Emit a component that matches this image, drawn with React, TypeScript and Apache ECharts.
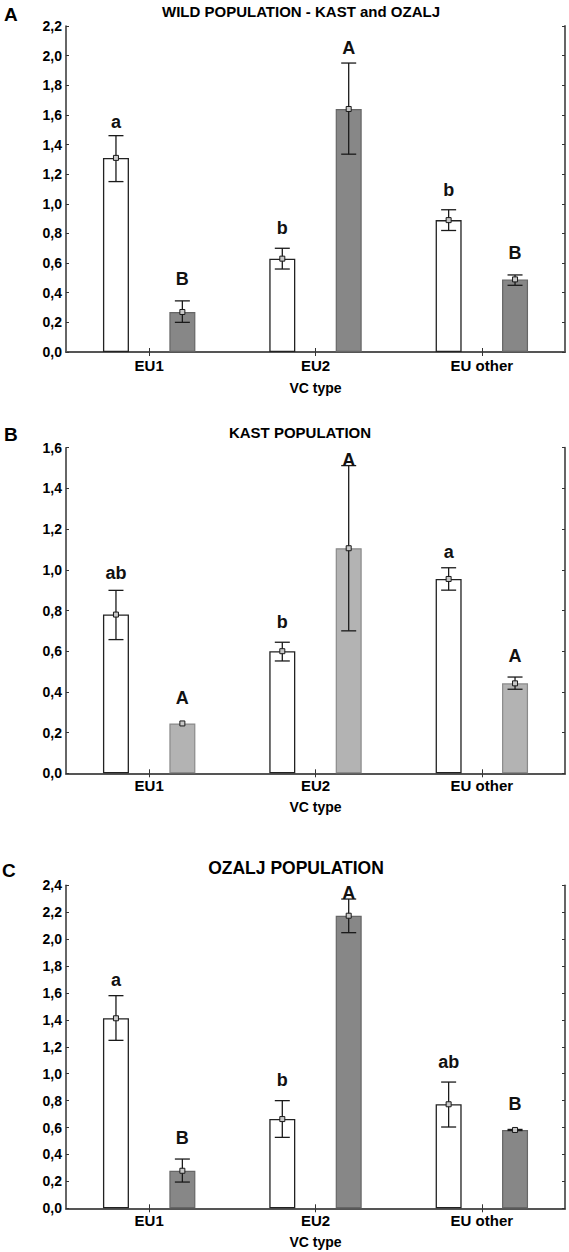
import React, { useEffect, useRef } from 'react';
import * as echarts from 'echarts';

const categories = ['EU1', 'EU2', 'EU other'];
const xAxisTitle = 'VC type';

// Panel A — wild population (Kast + Ozalj)
const aTitle = 'WILD POPULATION - KAST and OZALJ';
const aMax = 2.2;
const aWhiteMean = [1.31, 0.63, 0.89];
const aWhiteLow = [1.15, 0.56, 0.82];
const aWhiteHigh = [1.46, 0.70, 0.96];
const aGrayMean = [0.27, 1.64, 0.49];
const aGrayLow = [0.20, 1.335, 0.45];
const aGrayHigh = [0.345, 1.95, 0.52];
const aWhiteLetters = ['a', 'b', 'b'];
const aWhiteLetterY = [1.55, 0.84, 1.09];
const aGrayLetters = ['B', 'A', 'B'];
const aGrayLetterY = [0.49, 2.05, 0.67];

// Panel B — Kast population
const bTitle = 'KAST POPULATION';
const bMax = 1.6;
const bWhiteMean = [0.78, 0.60, 0.955];
const bWhiteLow = [0.657, 0.552, 0.90];
const bWhiteHigh = [0.899, 0.644, 1.01];
const bGrayMean = [0.245, 1.106, 0.442];
const bGrayLow = [0.245, 0.70, 0.413];
const bGrayHigh = [0.245, 1.512, 0.473];
const bWhiteLetters = ['ab', 'b', 'a'];
const bWhiteLetterY = [0.984, 0.745, 1.089];
const bGrayLetters = ['A', 'A', 'A'];
const bGrayLetterY = [0.37, 1.54, 0.576];

// Panel C — Ozalj population
const cTitle = 'OZALJ POPULATION';
const cMax = 2.4;
const cWhiteMean = [1.412, 0.663, 0.773];
const cWhiteLow = [1.248, 0.527, 0.604];
const cWhiteHigh = [1.58, 0.80, 0.938];
const cGrayMean = [0.279, 2.174, 0.582];
const cGrayLow = [0.195, 2.048, 0.578];
const cGrayHigh = [0.366, 2.298, 0.586];
const cWhiteLetters = ['a', 'b', 'ab'];
const cWhiteLetterY = [1.696, 0.953, 1.085];
const cGrayLetters = ['B', 'A', 'B'];
const cGrayLetterY = [0.525, 2.345, 0.773];

const TICK = 0.2;
const FONT = '"Liberation Sans", Arial, sans-serif';
const BAR_W = 26;
const GAP_PX = 40.4;
const OFFSET = (BAR_W + GAP_PX) / 2;

type Panel = {
  title: string; max: number; grayFill: string; grayBorder: string;
  wm: number[]; wl: number[]; wh: number[]; wLet: string[]; wLetY: number[];
  gm: number[]; gl: number[]; gh: number[]; gLet: string[]; gLetY: number[];
  top: number; height: number; labelMargin: number; nameGap: number;
};

const panels: Panel[] = [
  { title: aTitle, max: aMax, grayFill: '#878787', grayBorder: '#666666',
    wm: aWhiteMean, wl: aWhiteLow, wh: aWhiteHigh, wLet: aWhiteLetters, wLetY: aWhiteLetterY,
    gm: aGrayMean, gl: aGrayLow, gh: aGrayHigh, gLet: aGrayLetters, gLetY: aGrayLetterY,
    top: 26, height: 326, labelMargin: 6, nameGap: 29 },
  { title: bTitle, max: bMax, grayFill: '#b3b3b3', grayBorder: '#8a8a8a',
    wm: bWhiteMean, wl: bWhiteLow, wh: bWhiteHigh, wLet: bWhiteLetters, wLetY: bWhiteLetterY,
    gm: bGrayMean, gl: bGrayLow, gh: bGrayHigh, gLet: bGrayLetters, gLetY: bGrayLetterY,
    top: 447.7, height: 325.6, labelMargin: 5, nameGap: 27 },
  { title: cTitle, max: cMax, grayFill: '#878787', grayBorder: '#666666',
    wm: cWhiteMean, wl: cWhiteLow, wh: cWhiteHigh, wLet: cWhiteLetters, wLetY: cWhiteLetterY,
    gm: cGrayMean, gl: cGrayLow, gh: cGrayHigh, gLet: cGrayLetters, gLetY: cGrayLetterY,
    top: 885.3, height: 323, labelMargin: 5, nameGap: 27 },
];

const fmt = (v: number) => v.toFixed(1).replace('.', ',');

function errorSeries(idx: number, side: number, mean: number[], lo: number[], hi: number[], letters: string[], letterY: number[]) {
  return {
    type: 'custom',
    xAxisIndex: idx,
    yAxisIndex: idx,
    z: 10,
    clip: false,
    data: categories.map((_, i) => [i, mean[i], lo[i], hi[i], letterY[i]]),
    renderItem: (params: any, api: any) => {
      const i = api.value(0);
      const pm = api.coord([i, api.value(1)]);
      const pl = api.coord([i, api.value(2)]);
      const ph = api.coord([i, api.value(3)]);
      const pt = api.coord([i, api.value(4)]);
      const x = pm[0] + side * OFFSET;
      const stroke = { stroke: '#1a1a1a', lineWidth: 1.3 };
      const children: any[] = [];
      if (Math.abs(pl[1] - ph[1]) > 0.5) {
        children.push({ type: 'line', shape: { x1: x, y1: ph[1], x2: x, y2: pl[1] }, style: stroke });
        children.push({ type: 'line', shape: { x1: x - 7.5, y1: ph[1], x2: x + 7.5, y2: ph[1] }, style: stroke });
        children.push({ type: 'line', shape: { x1: x - 7.5, y1: pl[1], x2: x + 7.5, y2: pl[1] }, style: stroke });
      }
      children.push({ type: 'rect', shape: { x: x - 2.5, y: pm[1] - 2.5, width: 5, height: 5 },
        style: { fill: '#c8c8c8', stroke: '#1a1a1a', lineWidth: 1 } });
      children.push({ type: 'text', x, y: pt[1],
        style: { text: letters[i], fill: '#111', fontSize: 18, fontWeight: 'bold', fontFamily: FONT,
          align: 'center', verticalAlign: 'middle' } });
      return { type: 'group', children };
    },
  };
}

export default function App() {
  const ref = useRef<HTMLDivElement>(null);
  useEffect(() => {
    if (!ref.current) return;
    const chart = echarts.init(ref.current, null, { renderer: 'svg' });
    const axisLine = { show: true, lineStyle: { color: '#333', width: 1.5 } };
    const frameLine = { show: true, lineStyle: { color: '#555', width: 1.8 } };
    const grid: any[] = [];
    const xAxis: any[] = [];
    const yAxis: any[] = [];
    const series: any[] = [];
    panels.forEach((p) => {
      grid.push({ left: 66, width: 499, top: p.top, height: p.height });
    });
    panels.forEach((p, k) => {
      xAxis.push({
        type: 'category', gridIndex: k, data: categories, position: 'bottom',
        axisLine, axisTick: { show: true, inside: true, alignWithLabel: true, length: 4, lineStyle: { color: '#333' } },
        axisLabel: { color: '#000', fontSize: 15, fontWeight: 'bold', fontFamily: FONT, margin: p.labelMargin },
        name: xAxisTitle, nameLocation: 'middle', nameGap: p.nameGap,
        nameTextStyle: { color: '#000', fontSize: 14, fontWeight: 'bold', fontFamily: FONT },
      });
    });
    panels.forEach((p, k) => {
      xAxis.push({
        type: 'category', gridIndex: k, data: categories, position: 'top',
        axisLine: frameLine, axisTick: { show: true, inside: true, alignWithLabel: true, length: 4, lineStyle: { color: '#333' } },
        axisLabel: { show: false },
      });
    });
    panels.forEach((p, k) => {
      yAxis.push({
        type: 'value', gridIndex: k, min: 0, max: p.max, interval: TICK, position: 'left',
        axisLine, axisTick: { show: true, inside: true, length: 3, lineStyle: { color: '#333' } },
        splitLine: { show: false },
        axisLabel: { color: '#000', fontSize: 14, fontWeight: 'bold', fontFamily: FONT, margin: 4, formatter: fmt },
      });
    });
    panels.forEach((p, k) => {
      yAxis.push({
        type: 'value', gridIndex: k, min: 0, max: p.max, interval: TICK, position: 'right',
        axisLine: frameLine, axisTick: { show: true, inside: true, length: 3, lineStyle: { color: '#333' } },
        splitLine: { show: false }, axisLabel: { show: false },
      });
    });
    panels.forEach((p, k) => {
      series.push({
        type: 'bar', xAxisIndex: k, yAxisIndex: k, data: p.wm, barWidth: BAR_W,
        barGap: `${(GAP_PX / BAR_W) * 100}%`,
        itemStyle: { color: '#ffffff', borderColor: '#222', borderWidth: 1.3 },
      });
      series.push({
        type: 'bar', xAxisIndex: k, yAxisIndex: k, data: p.gm, barWidth: BAR_W,
        barGap: `${(GAP_PX / BAR_W) * 100}%`,
        itemStyle: { color: p.grayFill, borderColor: p.grayBorder, borderWidth: 1.2 },
      });
      series.push(errorSeries(k, -1, p.wm, p.wl, p.wh, p.wLet, p.wLetY));
      series.push(errorSeries(k, 1, p.gm, p.gl, p.gh, p.gLet, p.gLetY));
    });
    const textStyle = (text: string, size: number) => ({ text, fill: '#000', fontSize: size, fontWeight: 'bold', fontFamily: FONT });
    const graphic: any[] = [
      { type: 'text', left: 4, top: 5, style: textStyle('A', 19) },
      { type: 'text', left: 4, top: 425, style: textStyle('B', 19) },
      { type: 'text', left: 2, top: 861, style: textStyle('C', 19) },
      { type: 'text', x: 301, y: 11, style: { ...textStyle(aTitle, 15), align: 'center', verticalAlign: 'middle' } },
      { type: 'text', x: 300, y: 432, style: { ...textStyle(bTitle, 15), align: 'center', verticalAlign: 'middle' } },
      { type: 'text', x: 296, y: 868, style: { ...textStyle(cTitle, 17.5), align: 'center', verticalAlign: 'middle' } },
    ];
    chart.setOption({ animation: false, backgroundColor: '#fff', grid, xAxis, yAxis, series, graphic });
    return () => chart.dispose();
  }, []);
  return <div ref={ref} style={{ position: 'absolute', left: 0, top: 0, width: 569, height: 1252 }} />;
}
